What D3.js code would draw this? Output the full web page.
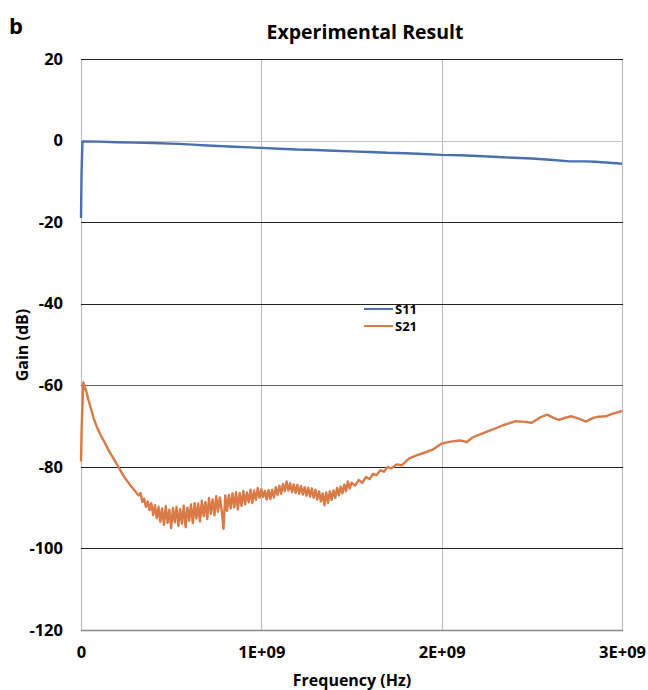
<!DOCTYPE html>
<html>
<head>
<meta charset="utf-8">
<script src="https://cdn.jsdelivr.net/npm/d3@7"></script>
<style>
  body { margin: 0; background: #fff; }
  text { font-family: "Open Sans", Lato, sans-serif; font-weight: bold; fill: #000; }
</style>
</head>
<body>
<script>
const w = 648
const h = 690
const margin = {top: 59, right: 25, bottom: 60, left: 81}

// Frequency ticks (Hz) and labels
const xTicks = [0, 1e9, 2e9, 3e9]
const xTickLabels = ["0", "1E+09", "2E+09", "3E+09"]
// Gain ticks (dB)
const yTicks = [20, 0, -20, -40, -60, -80, -100, -120]

// S11: [frequency GHz, gain dB]
const s11 = [
  [0, -19], [0.003, -8], [0.008, -0.2], [0.1, -0.25], [0.2, -0.4], [0.3, -0.5],
  [0.4, -0.6], [0.54, -0.8], [0.62, -1.0], [0.7, -1.2], [0.85, -1.5], [1.0, -1.8],
  [1.1, -2.0], [1.2, -2.2], [1.3, -2.3], [1.4, -2.5], [1.5, -2.65], [1.6, -2.8],
  [1.7, -3.0], [1.8, -3.1], [1.9, -3.3], [2.0, -3.5], [2.1, -3.6], [2.2, -3.8],
  [2.34, -4.1], [2.5, -4.4], [2.6, -4.7], [2.71, -5.1], [2.8, -5.1], [2.85, -5.2],
  [2.95, -5.5], [3.0, -5.7]
]

// S21: [frequency GHz, gain dB]
const s21 = [
  [0, -78.7], [0.004, -70], [0.013, -59.3], [0.02, -60.2], [0.03, -61.6], [0.04, -63.4],
  [0.057, -66], [0.07, -68.1], [0.09, -70.4], [0.11, -72.3], [0.131, -74], [0.15, -75.7],
  [0.17, -77.2], [0.205, -79.8], [0.24, -82.5], [0.277, -84.7], [0.31, -86.5],
  [0.32, -87.0], [0.33, -86.4], [0.34, -88.6], [0.35, -87.8], [0.36, -89.8], [0.37, -88.5],
  [0.38, -90.6], [0.39, -88.9], [0.40, -91.8], [0.41, -89.4], [0.42, -92.6], [0.43, -89.8],
  [0.44, -93.5], [0.45, -90.2], [0.46, -94.2], [0.47, -89.6], [0.48, -93.8], [0.49, -90.5],
  [0.50, -95.0], [0.51, -90.1], [0.52, -93.6], [0.53, -89.8], [0.54, -94.5], [0.55, -90.4],
  [0.56, -93.9], [0.57, -89.5], [0.58, -94.8], [0.59, -90.0], [0.60, -93.2], [0.61, -89.2],
  [0.62, -93.8], [0.63, -88.9], [0.64, -92.7], [0.65, -89.0], [0.66, -93.4], [0.67, -88.3],
  [0.68, -92.1], [0.69, -88.6], [0.70, -92.8], [0.71, -87.6], [0.72, -91.5], [0.73, -88.0],
  [0.74, -91.9], [0.75, -87.2], [0.76, -91.0], [0.77, -87.5], [0.78, -90.6], [0.79, -95.2],
  [0.80, -87.0], [0.81, -90.8], [0.82, -86.9], [0.83, -90.2], [0.84, -86.5], [0.85, -89.9],
  [0.86, -86.2], [0.87, -90.4], [0.88, -86.4], [0.89, -89.6], [0.90, -85.9], [0.91, -89.2],
  [0.92, -86.3], [0.93, -88.7], [0.94, -85.6], [0.95, -88.9], [0.96, -85.8], [0.97, -88.1],
  [0.98, -85.2], [0.99, -87.6], [1.00, -85.5], [1.01, -87.4], [1.02, -85.9], [1.03, -88.0],
  [1.04, -85.7], [1.05, -87.9], [1.06, -85.6], [1.07, -87.5], [1.08, -85.0], [1.09, -86.9],
  [1.10, -84.6], [1.11, -86.6], [1.12, -84.2], [1.13, -86.0], [1.14, -83.6], [1.15, -85.8],
  [1.16, -84.0], [1.17, -86.2], [1.18, -84.3], [1.19, -86.4], [1.20, -84.4], [1.21, -86.6],
  [1.22, -84.7], [1.23, -86.8], [1.24, -85.0], [1.25, -87.1], [1.26, -85.1], [1.27, -87.3],
  [1.28, -85.3], [1.29, -87.6], [1.30, -85.6], [1.31, -88.0], [1.32, -86.0], [1.33, -88.5],
  [1.34, -86.5], [1.35, -89.4], [1.36, -86.3], [1.37, -88.8], [1.38, -86.0], [1.39, -88.1],
  [1.40, -85.8], [1.41, -87.6], [1.42, -85.2], [1.43, -87.0], [1.44, -84.8], [1.45, -86.5],
  [1.46, -84.3], [1.47, -86.0], [1.48, -83.6], [1.49, -85.3], [1.50, -83.9], [1.52, -84.6],
  [1.54, -83.2], [1.56, -83.9], [1.58, -82.5], [1.60, -83.0], [1.62, -81.7], [1.64, -82.0],
  [1.66, -80.8], [1.68, -81.2], [1.70, -80.0], [1.72, -80.4], [1.75, -79.4], [1.78, -79.6],
  [1.82, -77.9], [1.86, -77.2], [1.90, -76.6], [1.95, -75.8], [2.00, -74.3], [2.05, -73.8],
  [2.10, -73.5], [2.14, -73.9], [2.17, -72.8], [2.22, -71.9], [2.28, -70.9], [2.34, -69.8],
  [2.41, -68.8], [2.45, -68.9], [2.50, -69.2], [2.55, -67.8], [2.585, -67.2], [2.62, -68.0],
  [2.65, -68.5], [2.69, -67.9], [2.72, -67.6], [2.76, -68.2], [2.80, -68.9], [2.84, -68.0],
  [2.87, -67.7], [2.91, -67.6], [2.945, -67.0], [2.97, -66.7], [3.0, -66.3]
]

const seriesNames = ["S11", "S21"]
const seriesColors = ["#4a6fae", "#d97b46"]

const svg = d3.select("body")
              .append("svg")
              .attr("width", w)
              .attr("height", h)

const x = d3.scaleLinear()
            .domain([0, 3e9])
            .range([margin.left, w - margin.right - 1])

const y = d3.scaleLinear()
            .domain([-120, 20])
            .range([h - margin.bottom, margin.top])

// vertical gridlines (light gray)
svg.append("g")
    .selectAll("line")
    .data(xTicks)
    .enter()
    .append("line")
      .attr("x1", d => Math.round(x(d)) + 0.5)
      .attr("x2", d => Math.round(x(d)) + 0.5)
      .attr("y1", y(20))
      .attr("y2", y(-120))
      .attr("stroke", "#bfbfbf")
      .attr("stroke-width", 1.2)

// horizontal gridlines
svg.append("g")
    .selectAll("line")
    .data(yTicks)
    .enter()
    .append("line")
      .attr("x1", x(0))
      .attr("x2", x(3e9) + 1)
      .attr("y1", d => Math.round(y(d)) + 0.5)
      .attr("y2", d => Math.round(y(d)) + 0.5)
      .attr("stroke", d => d === 0 ? "#c4c4c4" : d === -120 ? "#8a8a8a" : d === -60 ? "#666" : "#222")
      .attr("stroke-width", d => d === -120 ? 1.6 : 1.2)

// y tick labels (plain hyphen minus, as in the source)
const yAxis = d3.axisLeft(y)
                .tickValues(yTicks)
                .tickFormat(d => String(d))
                .tickSize(0)
                .tickPadding(18)
svg.append("g")
    .attr("transform", `translate(${margin.left}, 0)`)
    .call(yAxis)
    .call(g => g.select(".domain").remove())
    .selectAll("text")
      .style("font-size", "16.5px")
      .style("font-family", "'Open Sans', sans-serif")
      .style("font-weight", "bold")
      .attr("fill", "#000")

// x tick labels
const xAxis = d3.axisBottom(x)
                .tickValues(xTicks)
                .tickFormat((d, i) => xTickLabels[i])
                .tickSize(0)
                .tickPadding(16)
svg.append("g")
    .attr("transform", `translate(0, ${h - margin.bottom})`)
    .call(xAxis)
    .call(g => g.select(".domain").remove())
    .selectAll("text")
      .style("font-size", "16.5px")
      .style("font-family", "'Open Sans', sans-serif")
      .style("font-weight", "bold")
      .attr("fill", "#000")

// series lines
const line = d3.line()
                .x(d => x(d[0] * 1e9))
                .y(d => y(d[1]))

;[s11, s21].forEach((data, i) => {
  svg.append("path")
      .datum(data)
      .attr("d", line)
      .attr("fill", "none")
      .attr("stroke", seriesColors[i])
      .attr("stroke-width", 2.4)
      .attr("stroke-linejoin", "round")
})

// legend
const legend = svg.append("g")
                  .attr("transform", "translate(364, 309)")
seriesNames.forEach((name, i) => {
  legend.append("line")
        .attr("x1", 0)
        .attr("x2", 29)
        .attr("y1", i * 17)
        .attr("y2", i * 17)
        .attr("stroke", seriesColors[i])
        .attr("stroke-width", 2)
  legend.append("text")
        .attr("x", 31)
        .attr("y", i * 17)
        .attr("dy", "0.36em")
        .style("font-size", "13px")
        .text(name)
})

// titles
svg.append("text")
    .attr("x", 365)
    .attr("y", 39)
    .attr("text-anchor", "middle")
    .style("font-size", "19.5px")
    .text("Experimental Result")

svg.append("text")
    .attr("x", 9)
    .attr("y", 34)
    .style("font-size", "22px")
    .text("b")

svg.append("text")
    .attr("x", 352)
    .attr("y", 686)
    .attr("text-anchor", "middle")
    .style("font-size", "16px")
    .text("Frequency (Hz)")

svg.append("text")
    .attr("transform", "translate(28, 345) rotate(-90)")
    .attr("text-anchor", "middle")
    .style("font-size", "16px")
    .text("Gain (dB)")
</script>
</body>
</html>
